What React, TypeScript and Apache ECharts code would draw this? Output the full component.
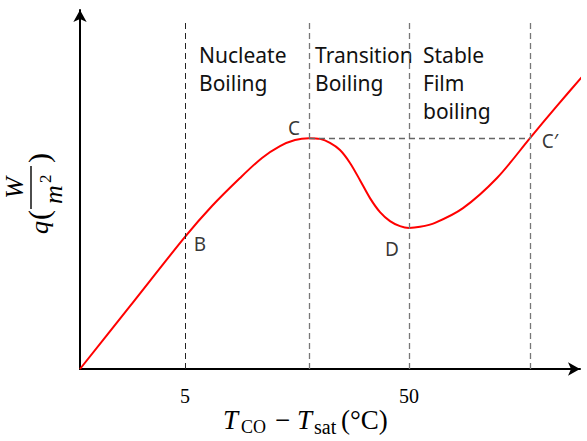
import React, { useEffect, useRef } from "react";
import * as echarts from "echarts";

// Boiling curve (schematic units: x 0..100, y 0..100)
const curveX = [0, 10, 21.0, 26.4, 32.0, 36.4, 40.0, 43.0, 45.8, 48.0, 50.0, 52.0, 54.0, 56.0, 58.0, 60.0, 62.0, 64.0, 65.8, 68.0, 71.0, 76.6, 83.4, 90.0, 95.4, 101.4];
const curveY = [0, 17.5, 36.8, 45.4, 53.2, 58.8, 62.1, 63.8, 64.3, 64.1, 63.0, 61.0, 57.4, 52.6, 47.6, 43.7, 41.2, 39.8, 39.3, 39.6, 40.7, 44.8, 53.2, 64.3, 73.3, 83.0];

const xTickValues = [21.0, 65.8];
const xTickLabels = ["5", "50"];

const boundaryX = [21.0, 45.8, 65.8, 90.0];
const boundaryTop = 96.7;
const plateauY = 64.3;
const plateauFrom = 45.8;
const plateauTo = 90.0;

const pointNames = ["B", "C", "D", "C\u2032"];
const pointX = [21.0, 45.8, 65.8, 90.0];
const pointY = [36.8, 64.3, 39.3, 64.3];

const regionNames = ["Nucleate\nBoiling", "Transition\nBoiling", "Stable\nFilm\nboiling"];

export default function App() {
  const ref = useRef<HTMLDivElement>(null);
  useEffect(() => {
    document.body.style.margin = "0";
    const chart = echarts.init(ref.current!, null, { renderer: "svg" });
    const labelOffsets = [[15, 7], [-15, -10], [-17, 21], [20, 3]];
    const regionPos = [[199, 41], [315, 41], [423, 41]];
    const sans = "'Noto Sans', sans-serif";
    const serif = "'Liberation Serif', serif";
    const dash = [6, 4];
    const mlData: any[] = boundaryX.map((x, i) => [
      { coord: [x, 0], lineStyle: { color: i === 0 ? "#222" : "#777", width: i === 0 ? 1 : 1.3, type: dash } },
      { coord: [x, boundaryTop] },
    ]);
    mlData.push([
      { coord: [plateauFrom, plateauY], lineStyle: { color: "#666", width: 1.3, type: dash } },
      { coord: [plateauTo, plateauY] },
    ]);
    const yl = 26;
    const t = (x: number, y: number, text: string, font: string, extra: any = {}) => ({
      type: "text",
      x,
      y,
      style: { text, font, fill: "#000", textVerticalAlign: "middle", ...extra },
    });
    chart.setOption({
      animation: false,
      grid: { left: 80, right: 7, top: 10, bottom: 72, containLabel: false },
      xAxis: {
        type: "value",
        min: 0,
        max: 100,
        axisLine: { show: true, symbol: ["none", "arrow"], symbolSize: [10, 12], lineStyle: { color: "#000", width: 2 } },
        axisTick: { show: false },
        splitLine: { show: false },
        axisLabel: {
          show: true,
          customValues: xTickValues,
          formatter: (v: number) => xTickLabels[xTickValues.indexOf(v)] ?? "",
          margin: 17,
          fontFamily: serif,
          fontSize: 20,
          color: "#000",
        },
      },
      yAxis: {
        type: "value",
        min: 0,
        max: 100,
        axisLine: { show: true, symbol: ["none", "arrow"], symbolSize: [10, 12], lineStyle: { color: "#000", width: 2 } },
        axisTick: { show: false },
        splitLine: { show: false },
        axisLabel: { show: false },
      },
      series: [
        {
          type: "line",
          data: curveX.map((x, i) => [x, curveY[i]]),
          smooth: 0.3,
          showSymbol: false,
          clip: false,
          lineStyle: { color: "#ff0000", width: 2 },
          markLine: {
            silent: true,
            symbol: ["none", "none"],
            label: { show: false },
            data: mlData,
          },
        },
        {
          type: "scatter",
          symbolSize: 0,
          data: pointX.map((x, i) => ({ value: [x, pointY[i]], label: { offset: labelOffsets[i] } })),
          label: {
            show: true,
            position: "inside",
            align: "center",
            verticalAlign: "middle",
            formatter: (p: any) => pointNames[p.dataIndex],
            fontFamily: sans,
            fontSize: 19,
            color: "#000",
          },
        },
      ],
      graphic: [
        ...regionNames.map((txt, i) => ({
          type: "text",
          left: regionPos[i][0],
          top: regionPos[i][1],
          style: { text: txt, font: `21px ${sans}`, lineHeight: 28, fill: "#111" },
        })),
        // x axis title
        t(223, 420, "T", `italic 27px ${serif}`),
        t(241, 427, "CO", `18px ${serif}`),
        t(275, 420, "\u2212", `27px ${serif}`),
        t(297, 420, "T", `italic 27px ${serif}`),
        t(314, 427, "sat", `20px ${serif}`),
        t(341, 420, "(\u00B0C)", `27px ${serif}`),
        // y axis title (rotated)
        {
          type: "group",
          x: 47,
          y: 234,
          rotation: Math.PI / 2,
          children: [
            t(0, -8, "q", `italic ${yl}px ${serif}`),
            t(14, -9, "(", `${yl + 4}px ${serif}`),
            { type: "line", shape: { x1: 25, y1: -16, x2: 68, y2: -16 }, style: { stroke: "#000", lineWidth: 1.4 } },
            t(46, -33, "W", `italic ${yl}px ${serif}`, { textAlign: "center" }),
            t(30, 6, "m", `italic ${yl}px ${serif}`),
            t(51, -2, "2", `17px ${serif}`),
            t(71, -9, ")", `${yl + 4}px ${serif}`),
          ],
        },
      ],
    });
    return () => chart.dispose();
  }, []);
  return <div ref={ref} style={{ width: 587, height: 441 }} />;
}
